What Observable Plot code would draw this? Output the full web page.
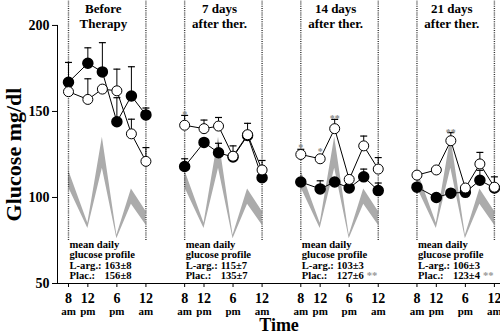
<!DOCTYPE html>
<html><head><meta charset="utf-8">
<script src="https://cdn.jsdelivr.net/npm/d3@7"></script>
<script src="https://cdn.jsdelivr.net/npm/@observablehq/plot@0.6"></script>
<style>
body{margin:0;background:#fff}
svg text{font-weight:bold;}
</style>
</head><body><div id="chart"></div><script>
// ---- data ----
const panelTitles = ["Before\nTherapy", "7 days\nafter ther.", "14 days\nafter ther.", "21 days\nafter ther."];
const clockHours = [8, 12, 15, 18, 21, 24];
// L-arginine (filled circles), mg/dl
const lArg = [
  [167, 178, 173, 144, 159, 148],
  [118, 132, 126, 123.5, 136, 111.5],
  [109, 105, 109, 105.5, 112, 104],
  [106, 100, 102.5, 103, 110, 105.5]
];
const lArgErr = [
  [11.5, 9, 17, 14, 17, 4],
  [4.5, 0, 5.5, 0, 0, 0],
  [0, 4.7, 0, 0, 4.5, 4.4],
  [0, 0, 0, 0, 5.8, 0]
];
// Placebo (open circles), mg/dl
const plac = [
  [161.5, 157, 163, 162, 137, 121],
  [142, 140, 141.5, 124, 136.5, 116],
  [125, 122.5, 140, 110.5, 130, 116.5],
  [113, 116, 133, 105.5, 119.5, 106]
];
const placErr = [
  [0, 12, 0, 12.6, 8.5, 8],
  [5.7, 5, 5, 6, 6.6, 5.5],
  [3, 0, 5.4, 0, 5.7, 6.7],
  [0, 0, 4.7, 0, 6.7, 6]
];
const placSig = [
  ["", "", "", "", "", ""],
  ["*", "", "", "", "", ""],
  ["*", "*", "**", "", "", ""],
  ["", "", "**", "", "", ""]
];
// grey reference band (same in each panel)
const bandUpper = [116, 85, 135, 78, 105, 92];
const bandLower = [106, 82, 117, 76, 96, 84];
const tickHours = [8, 12, 18, 24];
const tickNumbers = ["8", "12", "6", "12"];
const tickPeriods = ["am", "pm", "pm", "am"];
const meanLArg = ["163±8", "115±7", "103±3", "106±3"];
const meanPlac = ["156±8", "135±7", "127±6", "123±4"];
const meanSig = ["", "", "**", "**"];
const yTicks = [50, 100, 150, 200];

// ---- derived tables ----
const T = (d, h) => d * 24 + (h - 8);
const xMin = -2.27, xMax = 89.26, yTop = 214.5;
const rows = (vals, errs, sigs, series) => vals.flatMap((arr, d) => arr.map((v, i) => ({
  panel: d, t: T(d, clockHours[i]), v, err: errs[d][i], sig: sigs ? sigs[d][i] : "", series
})));
const lRows = rows(lArg, lArgErr, null, "L-arg");
const pRows = rows(plac, placErr, placSig, "Plac");
const bandRows = panelTitles.flatMap((_, d) => clockHours.map((h, i) => ({panel: d, t: T(d, h), lo: bandLower[i], hi: bandUpper[i]})));
const dottedRows = panelTitles.flatMap((_, d) => [T(d, 8), T(d, 24)]);
const tickT = panelTitles.flatMap((_, d) => tickHours.map(h => T(d, h)));
const tickNum = new Map(panelTitles.flatMap((_, d) => tickHours.map((h, i) => [T(d, h), tickNumbers[i]])));
const tickPer = new Map(panelTitles.flatMap((_, d) => tickHours.map((h, i) => [T(d, h), tickPeriods[i]])));
const panelRows = panelTitles.map((title, d) => ({
  d, t0: T(d, 8), tc: T(d, 8) + 7.2, title,
  labels: "mean daily\nglucose profile\nL-arg.:\nPlac.:",
  values: "\n\n" + meanLArg[d] + "\n" + meanPlac[d],
  sig: "\n\n\n" + meanSig[d]
}));
const errAll = [...pRows, ...lRows].filter(r => r.err > 0);
const capW = 0.72;
const serif = "'Liberation Serif', 'DejaVu Serif', serif";

const chart = Plot.plot({
  width: 500, height: 334,
  marginLeft: 57, marginRight: 0, marginTop: 0, marginBottom: 51,
  style: {fontFamily: serif, fontWeight: "bold", background: "white"},
  x: {domain: [xMin, xMax]},
  y: {domain: [50, yTop]},
  marks: [
    Plot.areaY(bandRows, {x: "t", y1: "lo", y2: "hi", z: "panel", fill: "#ababab"}),
    Plot.ruleX(dottedRows, {x: d => d, y1: 75, y2: yTop, stroke: "#333", strokeWidth: 1.4, strokeDasharray: "1,1.2"}),
    Plot.ruleX([xMin], {y1: 50, y2: 200, stroke: "black"}),
    Plot.ruleY([50], {stroke: "black"}),
    Plot.axisY({ticks: yTicks, tickSize: 5, tickPadding: 3, fontSize: 14, fontFamily: serif, fontWeight: "bold", label: null}),
    Plot.axisX({ticks: tickT, tickFormat: d => tickNum.get(d), tickSize: 4, tickPadding: 6, fontSize: 14, fontFamily: serif, fontWeight: "bold", label: null}),
    Plot.axisX({ticks: tickT, tickFormat: d => tickPer.get(d), tickSize: 0, tickPadding: 24, fontSize: 11, fontFamily: serif, fontWeight: "bold", label: null}),
    Plot.text(["Glucose mg/dl"], {frameAnchor: "left", textAnchor: "middle", y: 125, dx: -44, rotate: -90, fontSize: 22, fontFamily: serif, fontWeight: "bold", fill: "black"}),
    Plot.text(["Time"], {x: 43.5, y: 50, dy: 42, fontSize: 18, fontFamily: serif, fontWeight: "bold", fill: "black"}),
    Plot.text(panelRows, {x: "tc", y: yTop, text: "title", lineAnchor: "top", dy: 3, fontSize: 13, lineHeight: 1.08, fontFamily: serif, fontWeight: "bold", fill: "black"}),
    Plot.text(panelRows, {x: "t0", y: 75, text: "labels", lineAnchor: "top", textAnchor: "start", dx: 1, fontSize: 10.6, lineHeight: 0.98, fontFamily: serif, fontWeight: "bold", fill: "black"}),
    Plot.text(panelRows, {x: "t0", y: 75, text: "values", lineAnchor: "top", textAnchor: "start", dx: 36, fontSize: 10.6, lineHeight: 0.98, fontFamily: serif, fontWeight: "bold", fill: "black"}),
    Plot.text(panelRows, {x: "t0", y: 75, text: "sig", lineAnchor: "top", textAnchor: "start", dx: 66, fontSize: 10.6, lineHeight: 0.98, fontFamily: serif, fontWeight: "bold", fill: "#999"}),
    // error bars
    Plot.ruleX(errAll, {x: "t", y1: "v", y2: d => d.v + d.err, stroke: "black", strokeWidth: 1}),
    Plot.link(errAll, {x1: d => d.t - capW, x2: d => d.t + capW, y1: d => d.v + d.err, y2: d => d.v + d.err, stroke: "black", strokeWidth: 1.2}),
    // lines
    Plot.line(pRows, {x: "t", y: "v", z: "panel", stroke: "black", strokeWidth: 1}),
    Plot.line(lRows, {x: "t", y: "v", z: "panel", stroke: "black", strokeWidth: 1}),
    Plot.dot(lRows, {x: "t", y: "v", r: 5, fill: "black", stroke: "black"}),
    Plot.dot(pRows, {x: "t", y: "v", r: 5, fill: "white", stroke: "black", strokeWidth: 1}),
    Plot.text(pRows.filter(r => r.sig), {x: "t", y: d => d.v + Math.max(d.err, 4), text: "sig", lineAnchor: "bottom", dy: 3, fontSize: 10, fontFamily: serif, fill: "#888"})
  ]
});
document.getElementById("chart").appendChild(chart);
</script></body></html>
